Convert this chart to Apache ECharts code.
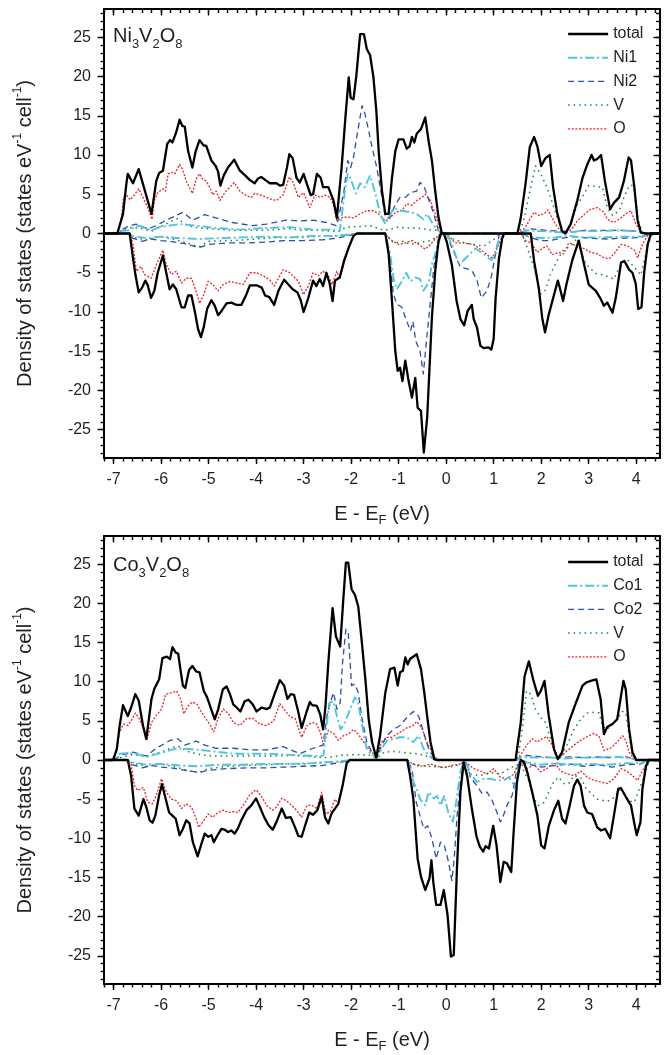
<!DOCTYPE html>
<html><head><meta charset="utf-8">
<script src="https://cdn.jsdelivr.net/npm/echarts@6/dist/echarts.min.js"></script>
<style>html,body{margin:0;padding:0;background:#fff}#c{width:668px;height:1055px}</style>
</head><body><div id="c"></div>
<script>
// ---------- tick labels ----------
const xTickLabels = [-7,-6,-5,-4,-3,-2,-1,0,1,2,3,4];
const yTickLabels = [-25,-20,-15,-10,-5,0,5,10,15,20,25];
const legendNi = ['total','Ni1','Ni2','V','O'];
const legendCo = ['total','Co1','Co2','V','O'];

// ---------- Ni3V2O8 : [E - EF (eV), DOS] ----------
const niTotalUp = [[-7.2,0],[-6.92,0],[-6.8,2.5],[-6.73,6.3],[-6.7,7.6],[-6.59,6.4],[-6.47,8.2],[-6.2,2.5],[-6.1,6.7],[-6.04,7.7],[-5.96,8.0],[-5.87,11.4],[-5.81,11.9],[-5.76,11.6],[-5.68,12.9],[-5.61,14.5],[-5.55,13.7],[-5.5,13.6],[-5.43,10.5],[-5.34,8.4],[-5.27,10.5],[-5.19,11.9],[-5.1,11.2],[-5.05,11.2],[-4.94,9.3],[-4.85,8.6],[-4.8,7.9],[-4.75,6.1],[-4.68,7.4],[-4.59,8.4],[-4.46,9.4],[-4.34,8.0],[-4.23,7.4],[-4.13,6.8],[-4.03,6.4],[-3.96,7.0],[-3.89,7.2],[-3.8,6.8],[-3.71,6.4],[-3.57,6.4],[-3.5,6.1],[-3.43,6.2],[-3.35,8.4],[-3.3,10.1],[-3.23,9.6],[-3.15,7.1],[-3.08,6.5],[-3.0,7.6],[-2.93,6.3],[-2.85,4.9],[-2.8,5.0],[-2.72,7.6],[-2.64,7.1],[-2.59,5.9],[-2.48,5.9],[-2.37,4.2],[-2.3,2.0],[-2.2,8.4],[-2.12,14.8],[-2.05,19.9],[-2.01,17.3],[-1.95,17.1],[-1.89,20.1],[-1.81,25.4],[-1.73,25.4],[-1.67,23.5],[-1.6,22.7],[-1.53,19.9],[-1.47,15.7],[-1.42,10.5],[-1.35,5.4],[-1.28,2.5],[-1.21,2.5],[-1.14,7.1],[-1.07,10.5],[-1.0,12.0],[-0.9,12.0],[-0.83,10.8],[-0.77,11.1],[-0.72,12.3],[-0.67,11.6],[-0.62,12.7],[-0.53,13.3],[-0.44,14.8],[-0.37,11.8],[-0.3,9.3],[-0.23,5.4],[-0.16,2.0],[-0.09,0],[1.5,0],[1.57,2.0],[1.67,6.3],[1.76,11.0],[1.85,12.3],[1.92,11.1],[2.0,8.6],[2.09,9.6],[2.18,10.0],[2.25,5.9],[2.34,2.5],[2.44,0.3],[2.51,0],[2.62,1.2],[2.76,4.2],[2.87,7.1],[2.97,8.8],[3.06,10.0],[3.11,9.3],[3.18,9.5],[3.26,10.0],[3.34,6.7],[3.45,3.1],[3.53,3.9],[3.64,4.6],[3.74,6.7],[3.84,9.7],[3.89,9.3],[3.96,5.9],[4.03,1.6],[4.1,0.1],[4.2,0],[4.5,0]];
const niTotalDn = [[-7.2,0],[-6.66,0],[-6.59,-3.1],[-6.54,-5.2],[-6.47,-7.5],[-6.4,-6.9],[-6.33,-6.0],[-6.28,-6.6],[-6.21,-8.2],[-6.14,-7.3],[-6.07,-5.0],[-5.96,-2.8],[-5.89,-5.0],[-5.82,-7.1],[-5.75,-6.5],[-5.68,-7.1],[-5.57,-9.4],[-5.5,-9.4],[-5.43,-7.9],[-5.36,-7.9],[-5.29,-9.9],[-5.22,-12.2],[-5.16,-13.2],[-5.1,-11.9],[-5.03,-9.6],[-4.94,-8.5],[-4.87,-9.2],[-4.8,-10.4],[-4.73,-9.9],[-4.62,-8.9],[-4.52,-8.8],[-4.41,-9.1],[-4.31,-9.1],[-4.2,-7.7],[-4.13,-6.6],[-3.99,-6.6],[-3.88,-6.9],[-3.81,-7.9],[-3.72,-8.1],[-3.62,-9.1],[-3.53,-7.3],[-3.41,-5.9],[-3.32,-6.5],[-3.23,-7.1],[-3.13,-7.5],[-3.06,-8.5],[-3.0,-10.0],[-2.91,-8.4],[-2.8,-6.0],[-2.73,-6.7],[-2.66,-5.8],[-2.59,-6.7],[-2.52,-5.0],[-2.45,-6.4],[-2.39,-8.6],[-2.34,-6.0],[-2.24,-5.6],[-2.15,-3.5],[-2.05,-1.8],[-1.95,-0.3],[-1.88,0],[-1.28,0],[-1.21,-2.6],[-1.14,-8.6],[-1.07,-15.0],[-1.02,-17.5],[-0.97,-17.1],[-0.92,-18.8],[-0.86,-16.2],[-0.79,-18.8],[-0.72,-20.9],[-0.65,-18.4],[-0.6,-22.2],[-0.53,-22.6],[-0.47,-27.9],[-0.4,-23.5],[-0.35,-17.1],[-0.3,-10.7],[-0.23,-4.8],[-0.16,-0.9],[-0.11,0],[-0.05,0],[0.01,-1.0],[0.12,-4.0],[0.22,-8.6],[0.3,-10.9],[0.38,-11.7],[0.45,-9.9],[0.54,-9.1],[0.58,-10.9],[0.65,-12.0],[0.72,-14.3],[0.79,-14.6],[0.89,-14.5],[0.95,-14.8],[1.0,-13.4],[1.04,-8.3],[1.11,-3.2],[1.18,-0.6],[1.22,0],[1.78,0],[1.85,-3.5],[1.95,-7.0],[2.02,-10.7],[2.08,-12.6],[2.16,-10.3],[2.27,-7.8],[2.35,-6.0],[2.4,-7.1],[2.46,-8.6],[2.53,-6.5],[2.65,-3.5],[2.79,-0.9],[2.9,-3.9],[3.0,-6.5],[3.15,-7.3],[3.24,-8.2],[3.32,-9.2],[3.39,-8.8],[3.5,-10.1],[3.57,-8.2],[3.68,-3.7],[3.75,-3.5],[3.85,-4.6],[3.92,-5.0],[3.99,-6.4],[4.04,-9.6],[4.11,-9.4],[4.17,-4.8],[4.24,-1.4],[4.31,0],[4.5,0]];
const niOUp = [[-7.2,0],[-6.92,0],[-6.84,1.5],[-6.79,4.6],[-6.73,4.9],[-6.65,4.3],[-6.56,4.9],[-6.47,5.7],[-6.38,4.6],[-6.28,3.3],[-6.19,1.8],[-6.14,4.2],[-6.07,5.2],[-5.96,5.7],[-5.91,5.4],[-5.85,7.6],[-5.78,7.8],[-5.71,7.6],[-5.61,8.8],[-5.55,8.2],[-5.47,6.7],[-5.34,5.1],[-5.26,6.9],[-5.19,7.6],[-5.12,6.9],[-5.05,6.7],[-4.96,5.7],[-4.91,4.9],[-4.84,5.4],[-4.76,4.2],[-4.66,5.2],[-4.55,5.9],[-4.46,6.5],[-4.34,5.4],[-4.2,4.8],[-4.1,4.6],[-4.03,5.1],[-3.85,4.8],[-3.71,4.4],[-3.57,4.2],[-3.43,4.9],[-3.3,7.2],[-3.22,6.5],[-3.11,4.6],[-3.0,5.2],[-2.87,3.3],[-2.76,4.9],[-2.65,4.6],[-2.55,4.9],[-2.44,4.6],[-2.37,3.6],[-2.3,1.6],[-2.2,2.0],[-2.1,2.1],[-1.95,2.0],[-1.81,2.5],[-1.67,2.9],[-1.53,2.9],[-1.42,2.5],[-1.28,1.6],[-1.18,2.0],[-1.07,2.7],[-0.93,2.9],[-0.83,3.8],[-0.72,3.6],[-0.62,4.2],[-0.51,4.6],[-0.44,5.0],[-0.33,4.2],[-0.23,2.5],[-0.12,0.3],[-0.05,0],[1.53,0],[1.67,0.8],[1.78,2.0],[1.85,2.7],[1.95,2.3],[2.06,2.5],[2.14,3.0],[2.23,2.0],[2.34,0.8],[2.44,0.2],[2.51,0],[2.65,0.6],[2.76,1.6],[2.9,2.4],[3.04,3.1],[3.18,3.3],[3.32,2.7],[3.39,1.8],[3.53,1.4],[3.68,2.0],[3.78,2.5],[3.89,2.9],[3.99,1.2],[4.1,0.2],[4.2,0],[4.5,0]];
const niODn = [[-7.2,0],[-6.66,0],[-6.59,-1.3],[-6.52,-4.8],[-6.42,-4.2],[-6.35,-5.2],[-6.21,-5.7],[-6.1,-4.0],[-5.96,-2.1],[-5.89,-4.0],[-5.78,-5.2],[-5.68,-4.8],[-5.57,-6.3],[-5.47,-5.7],[-5.36,-5.7],[-5.26,-7.4],[-5.19,-8.9],[-5.1,-7.8],[-5.01,-6.1],[-4.91,-6.5],[-4.8,-7.3],[-4.69,-6.5],[-4.55,-6.1],[-4.41,-6.3],[-4.27,-6.5],[-4.13,-5.0],[-3.99,-5.0],[-3.85,-5.4],[-3.71,-5.9],[-3.62,-6.7],[-3.43,-4.6],[-3.29,-5.0],[-3.11,-6.1],[-3.0,-7.8],[-2.9,-6.7],[-2.8,-5.0],[-2.69,-5.4],[-2.59,-4.8],[-2.48,-5.4],[-2.4,-6.5],[-2.3,-4.8],[-2.24,-5.8],[-2.17,-4.3],[-2.05,-1.6],[-1.95,-0.3],[-1.88,0],[-1.28,0],[-1.25,-0.3],[-1.14,-0.9],[-1.0,-1.4],[-0.86,-1.2],[-0.72,-0.9],[-0.58,-1.4],[-0.44,-2.0],[-0.33,-1.4],[-0.23,-0.7],[-0.12,0],[0.01,0],[0.19,-1.2],[0.37,-1.2],[0.58,-1.4],[0.76,-2.2],[0.9,-2.9],[0.97,-3.1],[1.11,-1.4],[1.2,0],[1.57,0],[1.67,-0.9],[1.78,-1.2],[1.92,-2.4],[2.02,-1.9],[2.12,-1.6],[2.23,-2.7],[2.37,-2.4],[2.47,-2.6],[2.58,-1.2],[2.68,-1.4],[2.79,-1.9],[2.9,-1.9],[3.04,-2.4],[3.18,-2.6],[3.32,-3.1],[3.43,-3.2],[3.53,-2.6],[3.68,-1.4],[3.82,-1.6],[3.96,-2.1],[4.03,-3.1],[4.13,-1.4],[4.24,-0.3],[4.3,0],[4.5,0]];
const niVUp = [[-7.2,0],[-6.92,0],[-6.8,0.5],[-6.6,0.8],[-6.4,0.6],[-6.2,0.3],[-6.0,0.9],[-5.8,1.5],[-5.65,1.9],[-5.5,1.2],[-5.3,0.8],[-5.0,0.6],[-4.7,0.5],[-4.4,0.4],[-4.0,0.4],[-3.6,0.5],[-3.3,0.6],[-3.0,0.4],[-2.7,0.4],[-2.4,0.3],[-2.3,0.2],[-2.1,0.8],[-1.8,0.9],[-1.6,1.0],[-1.4,0.6],[-1.3,0.4],[-1.2,0.5],[-1.04,0.8],[-0.8,0.7],[-0.62,0.7],[-0.4,0.5],[-0.19,0.4],[-0.08,0],[1.53,0],[1.63,1.6],[1.78,5.9],[1.88,8.6],[1.99,7.6],[2.12,5.9],[2.23,4.0],[2.34,2.0],[2.44,0.3],[2.51,0.1],[2.62,1.2],[2.76,3.7],[2.9,5.0],[3.0,6.1],[3.15,6.0],[3.29,5.9],[3.39,3.3],[3.5,2.3],[3.64,2.9],[3.74,4.6],[3.85,6.1],[3.94,6.1],[4.03,2.0],[4.13,0.1],[4.2,0],[4.5,0]];
const niVDn = [[-7.2,0],[-6.66,0],[-6.6,-0.5],[-6.3,-0.8],[-6.0,-0.4],[-5.7,-0.8],[-5.4,-1.3],[-5.2,-1.7],[-5.0,-1.0],[-4.6,-0.9],[-4.2,-0.8],[-3.8,-0.6],[-3.4,-0.5],[-3.0,-0.5],[-2.6,-0.3],[-2.3,-0.3],[-2.0,-0.1],[-1.88,0],[-1.28,0],[-1.11,-1.2],[-0.9,-1.0],[-0.76,-1.4],[-0.5,-1.1],[-0.33,-0.9],[-0.15,-0.3],[-0.05,0],[0.09,-0.6],[0.44,-1.3],[0.79,-1.6],[1.04,-0.6],[1.15,0],[1.6,0],[1.71,-1.9],[1.85,-4.3],[1.99,-7.7],[2.09,-7.2],[2.2,-5.1],[2.34,-3.4],[2.47,-2.1],[2.62,-1.6],[2.76,-0.6],[2.9,-3.4],[3.0,-4.3],[3.15,-5.1],[3.32,-5.3],[3.53,-5.8],[3.68,-3.8],[3.82,-3.4],[3.96,-4.3],[4.1,-5.3],[4.2,-2.6],[4.3,-0.5],[4.36,0],[4.5,0]];
const ni1Up = [[-7.2,0],[-6.92,0],[-6.85,0.3],[-6.7,0.4],[-6.47,1.0],[-6.2,0.4],[-6.04,0.8],[-5.61,1.2],[-5.26,1.0],[-4.85,0.7],[-4.34,0.5],[-3.78,0.7],[-3.3,0.8],[-2.8,0.5],[-2.37,0.5],[-2.24,0.3],[-2.12,5.9],[-2.07,7.6],[-2.0,6.8],[-1.9,5.1],[-1.81,6.4],[-1.71,5.9],[-1.6,7.4],[-1.49,5.1],[-1.39,2.5],[-1.28,1.2],[-1.11,3.2],[-0.93,2.9],[-0.75,2.7],[-0.62,2.5],[-0.48,1.8],[-0.4,2.5],[-0.26,1.0],[-0.12,0.1],[-0.05,0],[1.55,0],[1.7,0.4],[2.0,0.3],[2.3,0.2],[2.5,0.1],[2.8,0.3],[3.2,0.3],[3.6,0.4],[4.0,0.3],[4.2,0],[4.5,0]];
const ni1Dn = [[-7.2,0],[-6.66,0],[-6.6,-0.3],[-6.3,-0.6],[-6.0,-0.4],[-5.6,-0.6],[-5.2,-0.7],[-4.8,-0.6],[-4.3,-0.5],[-3.8,-0.4],[-3.3,-0.5],[-2.8,-0.3],[-2.3,-0.3],[-2.0,-0.1],[-1.88,0],[-1.28,0],[-1.18,-2.6],[-1.11,-5.6],[-1.04,-7.1],[-0.93,-6.1],[-0.84,-5.0],[-0.75,-6.1],[-0.65,-5.6],[-0.55,-5.8],[-0.48,-7.3],[-0.37,-6.3],[-0.3,-3.9],[-0.19,-1.8],[-0.1,0],[0.01,0],[0.12,-1.4],[0.25,-3.7],[0.35,-3.5],[0.5,-2.6],[0.62,-1.9],[0.78,-2.6],[0.95,-3.4],[1.04,-2.6],[1.12,-0.4],[1.2,0],[1.6,0],[1.75,-0.4],[2.0,-0.6],[2.3,-0.5],[2.6,-0.3],[2.9,-0.5],[3.3,-0.5],[3.7,-0.4],[4.1,-0.4],[4.3,0],[4.5,0]];
const ni2Up = [[-7.2,0],[-6.92,0],[-6.85,0.4],[-6.73,0.8],[-6.53,1.2],[-6.28,0.6],[-6.1,1.0],[-5.89,1.7],[-5.54,2.7],[-5.33,1.7],[-5.08,2.4],[-4.85,2.0],[-4.5,1.4],[-4.08,1.0],[-3.78,1.2],[-3.36,1.7],[-3.08,1.6],[-2.8,1.7],[-2.52,1.4],[-2.3,1.0],[-2.15,5.4],[-2.07,9.3],[-2.01,8.4],[-1.95,9.7],[-1.87,12.7],[-1.77,16.3],[-1.71,15.3],[-1.63,13.1],[-1.56,11.0],[-1.46,8.4],[-1.35,4.6],[-1.28,2.0],[-1.18,2.0],[-1.07,3.7],[-0.97,4.6],[-0.86,4.6],[-0.75,5.2],[-0.62,5.4],[-0.55,6.5],[-0.46,5.9],[-0.37,4.4],[-0.26,2.5],[-0.16,0.3],[-0.08,0],[1.55,0],[1.7,0.5],[1.8,0.6],[2.1,0.4],[2.4,0.3],[2.69,0.2],[2.9,0.4],[3.3,0.4],[3.7,0.4],[4.0,0.3],[4.2,0],[4.5,0]];
const ni2Dn = [[-7.2,0],[-6.66,0],[-6.6,-0.6],[-6.4,-1.0],[-6.2,-0.7],[-6.0,-0.9],[-5.8,-1.0],[-5.5,-1.3],[-5.2,-1.8],[-5.0,-1.4],[-4.6,-1.2],[-4.2,-1.2],[-3.8,-1.1],[-3.4,-0.9],[-3.0,-0.9],[-2.6,-0.8],[-2.3,-0.6],[-2.0,-0.2],[-1.88,0],[-1.28,0],[-1.19,-2.9],[-1.11,-7.7],[-1.04,-9.0],[-0.93,-9.4],[-0.86,-10.7],[-0.75,-12.4],[-0.7,-11.2],[-0.64,-13.7],[-0.55,-15.0],[-0.48,-17.9],[-0.4,-12.8],[-0.33,-8.6],[-0.26,-4.3],[-0.19,-1.8],[-0.1,0],[0.01,0],[0.12,-1.8],[0.3,-4.3],[0.45,-4.5],[0.55,-4.8],[0.65,-6.0],[0.74,-8.2],[0.86,-7.3],[0.95,-5.5],[1.04,-2.6],[1.12,0],[1.6,0],[1.75,-0.5],[2.0,-0.9],[2.2,-0.9],[2.4,-0.6],[2.7,-0.4],[3.0,-0.6],[3.39,-0.7],[3.7,-0.6],[4.1,-0.5],[4.3,0],[4.5,0]];

// ---------- Co3V2O8 ----------
const coTotalUp = [[-7.2,0],[-7.01,0],[-6.93,1.4],[-6.87,4.4],[-6.8,7.0],[-6.7,5.6],[-6.63,6.7],[-6.54,8.4],[-6.47,7.6],[-6.38,4.4],[-6.31,2.7],[-6.2,7.8],[-6.14,9.1],[-6.04,10.3],[-5.97,13.0],[-5.88,13.2],[-5.81,12.9],[-5.76,14.4],[-5.69,13.7],[-5.64,13.6],[-5.59,11.5],[-5.54,9.5],[-5.49,9.2],[-5.41,11.5],[-5.34,12.0],[-5.26,11.3],[-5.19,11.2],[-5.1,8.8],[-5.03,8.0],[-4.94,6.4],[-4.87,5.2],[-4.8,6.4],[-4.7,9.0],[-4.62,9.4],[-4.55,8.4],[-4.48,7.1],[-4.41,6.7],[-4.33,6.2],[-4.24,7.5],[-4.16,7.7],[-4.07,7.1],[-3.99,6.2],[-3.88,6.7],[-3.78,6.5],[-3.71,6.7],[-3.6,8.6],[-3.5,10.2],[-3.41,9.5],[-3.34,7.8],[-3.27,8.4],[-3.2,8.3],[-3.11,6.1],[-3.04,4.1],[-2.94,6.1],[-2.87,7.4],[-2.82,7.0],[-2.79,7.2],[-2.72,6.9],[-2.65,5.8],[-2.59,3.9],[-2.54,6.8],[-2.48,12.4],[-2.39,19.4],[-2.32,15.8],[-2.23,14.5],[-2.16,20.9],[-2.11,25.2],[-2.06,25.2],[-1.99,21.8],[-1.92,21.1],[-1.85,19.6],[-1.78,15.4],[-1.7,10.3],[-1.63,5.2],[-1.56,2.3],[-1.47,0.3],[-1.39,3.1],[-1.28,8.6],[-1.18,11.6],[-1.09,11.8],[-1.02,9.5],[-0.97,11.2],[-0.91,11.4],[-0.86,13.1],[-0.81,12.2],[-0.76,12.9],[-0.62,13.5],[-0.53,11.6],[-0.46,8.6],[-0.4,5.6],[-0.33,2.3],[-0.25,0.1],[-0.2,0],[1.46,0],[1.57,4.8],[1.65,10.7],[1.74,12.6],[1.83,10.3],[1.93,8.2],[1.99,8.8],[2.07,10.1],[2.16,5.6],[2.27,1.4],[2.35,0.1],[2.44,1.0],[2.58,4.8],[2.73,7.3],[2.87,9.5],[2.95,9.9],[3.04,10.1],[3.16,10.3],[3.25,7.8],[3.32,3.3],[3.39,4.2],[3.5,4.6],[3.6,5.2],[3.68,8.2],[3.73,10.1],[3.78,9.0],[3.85,3.9],[3.92,1.0],[4.0,0],[4.5,0]];
const coTotalDn = [[-7.2,0],[-6.7,0],[-6.63,-2.0],[-6.56,-6.2],[-6.47,-7.1],[-6.37,-5.0],[-6.31,-6.0],[-6.24,-7.7],[-6.18,-8.0],[-6.12,-7.1],[-6.04,-4.5],[-5.98,-3.1],[-5.9,-5.0],[-5.83,-6.7],[-5.76,-7.1],[-5.69,-7.5],[-5.61,-9.6],[-5.54,-8.8],[-5.47,-7.7],[-5.4,-8.1],[-5.33,-10.5],[-5.23,-12.3],[-5.15,-10.7],[-5.08,-9.4],[-5.01,-9.8],[-4.94,-9.6],[-4.89,-10.5],[-4.82,-9.7],[-4.73,-8.8],[-4.66,-8.9],[-4.59,-9.2],[-4.52,-9.0],[-4.45,-9.4],[-4.38,-8.7],[-4.31,-7.7],[-4.2,-6.4],[-4.1,-5.8],[-4.0,-4.9],[-3.92,-6.0],[-3.83,-7.3],[-3.74,-8.3],[-3.65,-8.9],[-3.57,-7.9],[-3.46,-6.2],[-3.37,-7.4],[-3.27,-7.3],[-3.18,-8.6],[-3.11,-9.7],[-3.04,-9.8],[-2.97,-8.4],[-2.88,-6.7],[-2.8,-7.0],[-2.71,-6.4],[-2.62,-4.7],[-2.55,-7.3],[-2.48,-8.1],[-2.41,-6.8],[-2.34,-6.2],[-2.27,-5.6],[-2.18,-3.3],[-2.09,-0.3],[-2.02,0],[-0.82,0],[-0.76,-2.0],[-0.69,-5.0],[-0.6,-12.6],[-0.53,-14.9],[-0.44,-16.6],[-0.35,-15.1],[-0.31,-12.8],[-0.27,-15.6],[-0.21,-18.5],[-0.12,-18.5],[-0.05,-16.6],[0.03,-19.8],[0.1,-25.1],[0.16,-24.9],[0.23,-13.4],[0.3,-4.1],[0.37,-0.3],[0.44,-2.0],[0.54,-6.2],[0.64,-9.8],[0.71,-11.1],[0.78,-11.7],[0.83,-11.0],[0.9,-11.3],[0.99,-8.4],[1.06,-10.9],[1.14,-15.6],[1.21,-13.0],[1.28,-13.2],[1.37,-14.3],[1.42,-9.2],[1.49,-2.8],[1.57,0],[1.63,-0.2],[1.71,-1.6],[1.81,-4.1],[1.92,-7.1],[2.0,-10.9],[2.07,-11.3],[2.16,-8.4],[2.27,-6.4],[2.36,-5.2],[2.44,-7.5],[2.51,-8.1],[2.6,-5.8],[2.69,-3.3],[2.76,-2.5],[2.83,-3.3],[2.9,-5.8],[2.97,-6.7],[3.07,-6.9],[3.18,-8.6],[3.26,-9.0],[3.35,-8.8],[3.45,-10.0],[3.53,-7.1],[3.62,-3.7],[3.68,-3.6],[3.78,-4.7],[3.89,-5.8],[3.96,-8.1],[4.01,-9.6],[4.09,-7.9],[4.13,-3.7],[4.2,-0.9],[4.26,0],[4.5,0]];
const coOUp = [[-7.2,0],[-7.0,0],[-6.98,0.3],[-6.87,3.6],[-6.79,4.6],[-6.7,4.4],[-6.63,5.0],[-6.54,6.0],[-6.46,5.3],[-6.38,4.2],[-6.3,2.5],[-6.2,4.8],[-6.1,5.7],[-5.99,6.5],[-5.9,8.4],[-5.78,8.6],[-5.67,8.8],[-5.59,7.8],[-5.52,5.9],[-5.43,6.9],[-5.34,7.4],[-5.24,7.1],[-5.15,6.1],[-5.06,5.3],[-4.96,4.4],[-4.89,3.6],[-4.8,5.3],[-4.69,6.5],[-4.58,5.9],[-4.48,4.8],[-4.34,4.4],[-4.2,5.3],[-4.06,5.3],[-3.92,4.6],[-3.78,4.4],[-3.63,5.0],[-3.5,7.2],[-3.39,6.3],[-3.28,5.5],[-3.18,5.3],[-3.04,2.9],[-2.93,4.4],[-2.82,4.8],[-2.73,4.6],[-2.65,3.6],[-2.58,2.0],[-2.48,3.8],[-2.37,3.4],[-2.27,2.5],[-2.16,3.1],[-2.06,3.3],[-1.95,3.9],[-1.85,3.3],[-1.74,2.3],[-1.63,1.4],[-1.53,0.8],[-1.46,0.4],[-1.36,2.3],[-1.25,2.9],[-1.14,2.9],[-1.04,3.3],[-0.93,3.7],[-0.83,4.1],[-0.72,4.3],[-0.62,4.9],[-0.51,4.1],[-0.44,2.7],[-0.33,1.4],[-0.23,0.4],[-0.15,0],[1.49,0],[1.6,1.0],[1.71,2.0],[1.81,2.7],[1.92,2.3],[2.02,2.7],[2.12,3.0],[2.23,1.9],[2.34,0.4],[2.44,0.6],[2.55,1.2],[2.69,1.9],[2.83,2.5],[2.97,3.0],[3.11,3.4],[3.22,3.0],[3.32,1.2],[3.46,1.5],[3.6,2.3],[3.71,3.1],[3.78,2.5],[3.85,1.0],[3.96,0.1],[4.05,0],[4.5,0]];
const coODn = [[-7.2,0],[-6.7,0],[-6.63,-0.5],[-6.56,-3.3],[-6.49,-3.9],[-6.37,-3.5],[-6.28,-5.4],[-6.18,-5.6],[-6.1,-4.5],[-5.99,-2.4],[-5.89,-4.1],[-5.78,-5.0],[-5.67,-5.2],[-5.57,-6.2],[-5.47,-5.6],[-5.36,-6.0],[-5.26,-7.5],[-5.21,-8.6],[-5.12,-7.9],[-5.01,-6.9],[-4.91,-7.3],[-4.8,-6.7],[-4.69,-6.4],[-4.58,-6.7],[-4.48,-6.6],[-4.38,-6.7],[-4.27,-5.8],[-4.14,-4.5],[-4.0,-3.8],[-3.88,-4.7],[-3.78,-5.8],[-3.65,-6.4],[-3.57,-6.0],[-3.46,-4.9],[-3.36,-5.2],[-3.25,-5.8],[-3.15,-6.4],[-3.04,-7.3],[-2.93,-5.8],[-2.82,-5.8],[-2.72,-6.2],[-2.62,-4.1],[-2.53,-6.9],[-2.44,-6.6],[-2.34,-5.0],[-2.27,-5.6],[-2.18,-3.3],[-2.1,-0.7],[-2.02,0],[-0.82,0],[-0.76,-0.3],[-0.62,-0.7],[-0.48,-0.8],[-0.33,-0.5],[-0.19,-0.8],[-0.05,-1.0],[0.12,-0.7],[0.3,-0.5],[0.4,-0.2],[0.58,-1.1],[0.72,-1.4],[0.86,-1.8],[1.0,-1.1],[1.14,-2.2],[1.28,-2.4],[1.42,-1.8],[1.53,-0.3],[1.6,-0.3],[1.71,-1.1],[1.85,-0.6],[1.99,-1.5],[2.12,-1.1],[2.27,-0.3],[2.41,-1.4],[2.55,-1.8],[2.69,-2.0],[2.83,-1.4],[2.97,-2.2],[3.11,-2.6],[3.25,-2.8],[3.39,-3.0],[3.53,-2.4],[3.68,-1.1],[3.82,-1.5],[3.92,-2.0],[4.03,-2.6],[4.13,-1.4],[4.24,-0.3],[4.3,0],[4.5,0]];
const coVUp = [[-7.2,0],[-7.0,0],[-6.8,0.4],[-6.6,0.7],[-6.3,0.5],[-6.0,1.0],[-5.8,1.5],[-5.65,1.8],[-5.4,1.0],[-5.1,0.6],[-4.8,0.5],[-4.4,0.5],[-4.0,0.5],[-3.6,0.5],[-3.2,0.6],[-2.8,0.4],[-2.5,0.3],[-2.2,0.6],[-1.9,0.7],[-1.6,0.6],[-1.47,0.2],[-1.3,1.0],[-1.1,1.1],[-0.8,0.9],[-0.6,0.8],[-0.37,0.4],[-0.2,0],[1.49,0],[1.53,1.0],[1.62,4.8],[1.69,8.8],[1.78,8.4],[1.88,6.5],[1.99,5.4],[2.09,4.8],[2.2,2.7],[2.31,0.5],[2.41,0.3],[2.55,2.0],[2.69,3.9],[2.83,5.2],[2.97,6.0],[3.11,6.1],[3.22,6.0],[3.29,4.3],[3.39,3.9],[3.5,4.6],[3.6,5.2],[3.71,6.2],[3.78,6.0],[3.85,3.1],[3.92,0.5],[4.0,0],[4.5,0]];
const coVDn = [[-7.2,0],[-6.7,0],[-6.6,-0.4],[-6.3,-0.8],[-6.0,-0.5],[-5.7,-0.9],[-5.4,-1.4],[-5.2,-1.6],[-5.0,-1.1],[-4.6,-0.8],[-4.2,-0.7],[-3.8,-0.6],[-3.4,-0.5],[-3.0,-0.5],[-2.6,-0.3],[-2.2,-0.2],[-2.02,0],[-0.82,0],[-0.7,-0.5],[-0.4,-0.8],[-0.1,-0.9],[0.2,-0.8],[0.37,-0.3],[0.5,-1.8],[0.72,-2.0],[0.93,-1.6],[1.14,-1.8],[1.35,-1.0],[1.5,-0.6],[1.57,0],[1.63,-1.4],[1.74,-2.7],[1.85,-5.0],[1.95,-5.8],[2.06,-5.4],[2.16,-4.1],[2.27,-2.7],[2.37,-2.2],[2.47,-3.0],[2.58,-3.0],[2.69,-2.0],[2.83,-2.2],[2.93,-3.5],[3.07,-4.4],[3.18,-5.0],[3.32,-5.2],[3.43,-5.2],[3.53,-4.8],[3.64,-3.8],[3.74,-4.2],[3.85,-5.2],[3.96,-5.4],[4.06,-3.8],[4.17,-2.0],[4.26,-0.3],[4.3,0],[4.5,0]];
const co1Up = [[-7.2,0],[-7.0,0],[-6.87,0.8],[-6.59,0.9],[-6.31,0.4],[-6.0,0.9],[-5.67,1.5],[-5.19,1.3],[-4.48,0.8],[-3.78,0.8],[-3.08,0.6],[-2.65,0.5],[-2.58,0.6],[-2.53,3.9],[-2.46,7.3],[-2.37,7.5],[-2.3,5.6],[-2.22,3.9],[-2.13,4.8],[-2.02,6.5],[-1.92,8.0],[-1.85,7.3],[-1.78,4.8],[-1.67,1.4],[-1.56,0.6],[-1.46,0.3],[-1.36,1.4],[-1.25,2.5],[-1.11,2.7],[-0.97,2.9],[-0.83,2.9],[-0.69,2.3],[-0.58,3.1],[-0.47,1.4],[-0.37,0.6],[-0.26,0.1],[-0.2,0],[1.49,0],[1.6,0.4],[1.9,0.3],[2.2,0.3],[2.5,0.2],[2.8,0.3],[3.2,0.3],[3.6,0.4],[3.9,0.2],[4.0,0],[4.5,0]];
const co1Dn = [[-7.2,0],[-6.7,0],[-6.6,-0.3],[-6.3,-0.6],[-6.0,-0.5],[-5.6,-0.7],[-5.2,-0.8],[-4.8,-0.6],[-4.3,-0.6],[-3.8,-0.5],[-3.3,-0.5],[-2.8,-0.4],[-2.3,-0.2],[-2.02,0],[-0.82,0],[-0.76,-1.0],[-0.69,-2.8],[-0.62,-3.7],[-0.55,-5.0],[-0.44,-5.8],[-0.37,-4.1],[-0.26,-4.9],[-0.19,-4.6],[-0.12,-5.8],[-0.04,-4.6],[0.05,-6.8],[0.14,-7.9],[0.21,-5.4],[0.3,-1.5],[0.37,0],[0.44,-0.5],[0.51,-1.8],[0.65,-2.8],[0.79,-2.4],[0.93,-2.4],[1.07,-2.6],[1.21,-2.6],[1.32,-2.2],[1.39,-2.8],[1.46,-3.7],[1.53,-0.5],[1.57,0],[1.7,-0.3],[2.0,-0.6],[2.3,-0.4],[2.6,-0.6],[3.0,-0.5],[3.4,-0.6],[3.8,-0.4],[4.1,-0.4],[4.26,0],[4.5,0]];
const co2Up = [[-7.2,0],[-7.0,0],[-6.8,0.7],[-6.59,1.0],[-6.31,0.5],[-6.1,1.5],[-5.81,2.5],[-5.64,2.7],[-5.5,1.9],[-5.26,2.4],[-5.08,1.9],[-4.84,1.5],[-4.48,1.5],[-4.13,1.3],[-3.78,1.3],[-3.43,1.7],[-3.08,0.8],[-2.8,1.5],[-2.59,1.9],[-2.51,5.6],[-2.44,7.3],[-2.37,8.6],[-2.3,6.5],[-2.23,7.3],[-2.18,12.4],[-2.11,16.7],[-2.06,16.2],[-1.99,9.5],[-1.92,9.7],[-1.85,8.6],[-1.78,5.6],[-1.67,2.3],[-1.56,1.0],[-1.46,0.3],[-1.36,1.8],[-1.25,3.1],[-1.11,3.9],[-0.97,4.4],[-0.83,5.4],[-0.69,6.2],[-0.58,5.6],[-0.47,3.5],[-0.37,1.4],[-0.26,0.3],[-0.2,0],[1.49,0],[1.6,0.5],[1.7,0.6],[2.0,0.4],[2.3,0.3],[2.6,0.4],[2.9,0.3],[3.2,0.4],[3.5,0.3],[3.8,0.4],[3.95,0.1],[4.0,0],[4.5,0]];
const co2Dn = [[-7.2,0],[-6.7,0],[-6.6,-0.6],[-6.4,-1.0],[-6.2,-0.7],[-6.0,-0.9],[-5.8,-1.0],[-5.5,-1.3],[-5.2,-1.6],[-5.0,-1.3],[-4.6,-1.1],[-4.2,-1.0],[-3.8,-1.0],[-3.4,-0.9],[-3.0,-0.8],[-2.6,-0.7],[-2.3,-0.4],[-2.02,0],[-0.82,0],[-0.72,-1.1],[-0.63,-5.4],[-0.55,-7.1],[-0.47,-8.8],[-0.39,-8.4],[-0.3,-10.0],[-0.21,-12.6],[-0.12,-10.5],[-0.04,-10.9],[0.05,-13.0],[0.12,-15.4],[0.17,-12.6],[0.23,-7.1],[0.3,-2.8],[0.37,0],[0.44,-0.6],[0.51,-2.2],[0.65,-3.3],[0.76,-4.3],[0.86,-4.1],[0.97,-5.2],[1.07,-6.7],[1.14,-7.9],[1.18,-7.5],[1.28,-5.8],[1.39,-4.5],[1.49,-1.1],[1.57,0],[1.7,-0.5],[2.0,-0.9],[2.3,-0.7],[2.6,-0.5],[2.9,-0.8],[3.2,-0.6],[3.5,-0.9],[3.8,-0.6],[4.1,-0.5],[4.26,0],[4.5,0]];

// ---------- rendering ----------
const FONT = '"Liberation Sans", Arial, sans-serif';
const TXT = '#231f20';
const X_MIN = -7.2, X_MAX = 4.5, Y_MIN = -28.6, Y_MAX = 28.6;
function steps(a, b, s) { const r = []; for (let i = 0; a + i * s <= b + 1e-9; i++) r.push(Math.round((a + i * s) * 10) / 10); return r; }
const xMinor = steps(-7.2, 4.4, 0.2);
const yMinor = steps(-28, 28, 1);

const C = { total: '#000000', m1: '#4fc4dc', m2: '#2f4ea6', V: '#14853c', O: '#ec2229' };
const ST = {
  total: { color: C.total, width: 2.3, type: 'solid' },
  m1: { color: C.m1, width: 1.9, type: [9, 3, 2, 3] },
  m2: { color: C.m2, width: 1.3, type: [6, 4] },
  V: { color: C.V, width: 1.5, type: [1.5, 4] },
  O: { color: C.O, width: 1.3, type: [2, 1.6] }
};

const grids = [
  { left: 104, top: 9, width: 556, height: 449 },
  { left: 104, top: 536, width: 556, height: 448 }
];
const tickLine = { color: '#000', width: 1.4 };
const xAxes = [], yAxes = [];
grids.forEach((g, gi) => {
  const base = { gridIndex: gi, type: 'value', min: X_MIN, max: X_MAX, splitLine: { show: false } };
  xAxes.push(Object.assign({}, base, {
    position: 'bottom',
    axisLine: { onZero: false, lineStyle: { color: '#000', width: 2 } },
    axisTick: { customValues: xTickLabels, length: 6, lineStyle: tickLine },
    axisLabel: { customValues: xTickLabels, fontSize: 16, color: TXT, margin: 14, fontFamily: FONT },
    name: '{n|E - E}{s|F}{n| (eV)}', nameLocation: 'middle', nameGap: 43,
    nameTextStyle: { fontFamily: FONT, color: TXT, fontSize: 20, rich: {
      n: { fontSize: 20, fontFamily: FONT, color: TXT, lineHeight: 26, verticalAlign: 'middle' },
      s: { fontSize: 13, fontFamily: FONT, color: TXT, lineHeight: 14, verticalAlign: 'bottom' } } }
  }));
  xAxes.push(Object.assign({}, base, { position: 'bottom', axisLine: { show: false, onZero: false },
    axisTick: { customValues: xMinor, length: 3.5, lineStyle: tickLine }, axisLabel: { show: false } }));
  xAxes.push(Object.assign({}, base, { position: 'top', axisLine: { onZero: false, lineStyle: { color: '#000', width: 2 } },
    axisTick: { customValues: xTickLabels, length: 6.5, inside: true, lineStyle: tickLine }, axisLabel: { show: false } }));
  xAxes.push(Object.assign({}, base, { position: 'top', axisLine: { show: false, onZero: false },
    axisTick: { customValues: xMinor, length: 4, inside: true, lineStyle: tickLine }, axisLabel: { show: false } }));

  const yb = { gridIndex: gi, type: 'value', min: Y_MIN, max: Y_MAX, splitLine: { show: false } };
  yAxes.push(Object.assign({}, yb, {
    position: 'left',
    axisLine: { onZero: false, lineStyle: { color: '#000', width: 2 } },
    axisTick: { customValues: yTickLabels, length: 6.5, lineStyle: tickLine },
    axisLabel: { customValues: yTickLabels, fontSize: 16, color: TXT, margin: 13, fontFamily: FONT },
    name: '{n|Density of states (states eV}{p|-1}{n| cell}{p|-1}{n|)}', nameLocation: 'middle', nameGap: 66,
    nameTextStyle: { fontFamily: FONT, color: TXT, fontSize: 20, rich: {
      n: { fontSize: 20, fontFamily: FONT, color: TXT, lineHeight: 26, verticalAlign: 'middle' },
      p: { fontSize: 12, fontFamily: FONT, color: TXT, lineHeight: 13, verticalAlign: 'top' } } }
  }));
  yAxes.push(Object.assign({}, yb, { position: 'left', axisLine: { show: false, onZero: false },
    axisTick: { customValues: yMinor, length: 3.5, lineStyle: tickLine }, axisLabel: { show: false } }));
  yAxes.push(Object.assign({}, yb, { position: 'right', axisLine: { onZero: false, lineStyle: { color: '#000', width: 2 } },
    axisTick: { customValues: yTickLabels, length: 6.5, inside: true, lineStyle: tickLine }, axisLabel: { show: false } }));
  yAxes.push(Object.assign({}, yb, { position: 'right', axisLine: { show: false, onZero: false },
    axisTick: { customValues: yMinor, length: 4, inside: true, lineStyle: tickLine }, axisLabel: { show: false } }));
});

function line(name, data, gi, style, z) {
  return { type: 'line', name: name, data: data, xAxisIndex: gi * 4, yAxisIndex: gi * 4,
    symbol: 'none', showSymbol: false, smooth: false, silent: true, z: z,
    lineStyle: { color: style.color, width: style.width, type: style.type, cap: 'butt', join: 'round' },
    itemStyle: { color: style.color } };
}
const series = [
  line('O', niOUp, 0, ST.O, 2), line('O', niODn, 0, ST.O, 2),
  line('V', niVUp, 0, ST.V, 3), line('V', niVDn, 0, ST.V, 3),
  line('Ni2', ni2Up, 0, ST.m2, 4), line('Ni2', ni2Dn, 0, ST.m2, 4),
  line('Ni1', ni1Up, 0, ST.m1, 5), line('Ni1', ni1Dn, 0, ST.m1, 5),
  line('total', niTotalUp, 0, ST.total, 6), line('total', niTotalDn, 0, ST.total, 6),
  line('O', coOUp, 1, ST.O, 2), line('O', coODn, 1, ST.O, 2),
  line('V', coVUp, 1, ST.V, 3), line('V', coVDn, 1, ST.V, 3),
  line('Co2', co2Up, 1, ST.m2, 4), line('Co2', co2Dn, 1, ST.m2, 4),
  line('Co1', co1Up, 1, ST.m1, 5), line('Co1', co1Dn, 1, ST.m1, 5),
  line('total', coTotalUp, 1, ST.total, 6), line('total', coTotalDn, 1, ST.total, 6)
];

const legendBase = { orient: 'vertical', itemWidth: 40, itemHeight: 14, itemGap: 7.7, padding: 0,
  selectedMode: false, textStyle: { fontSize: 16, color: TXT, fontFamily: FONT },
  itemStyle: { opacity: 0, color: 'rgba(0,0,0,0)', borderWidth: 0 },
  lineStyle: { width: 'inherit', type: 'inherit' } };
const titleRich = {
  b: { fontSize: 20, fontWeight: 'normal', fontFamily: FONT, color: TXT, lineHeight: 30, verticalAlign: 'middle' },
  s: { fontSize: 13, fontWeight: 'normal', fontFamily: FONT, color: TXT, lineHeight: 14, verticalAlign: 'bottom' }
};

const chart = echarts.init(document.getElementById('c'), null, { renderer: 'canvas' });
chart.setOption({
  animation: false,
  backgroundColor: '#ffffff',
  title: [
    { text: '{b|Ni}{s|3}{b|V}{s|2}{b|O}{s|8}', left: 113, top: 21, padding: 0, textStyle: { fontSize: 20, fontWeight: 'normal', rich: titleRich } },
    { text: '{b|Co}{s|3}{b|V}{s|2}{b|O}{s|8}', left: 113, top: 550, padding: 0, textStyle: { fontSize: 20, fontWeight: 'normal', rich: titleRich } }
  ],
  legend: [
    Object.assign({}, legendBase, { data: legendNi, left: 567, top: 26 }),
    Object.assign({}, legendBase, { data: legendCo, left: 567, top: 554 })
  ],
  grid: grids,
  xAxis: xAxes,
  yAxis: yAxes,
  series: series
});
</script>
</body></html>
